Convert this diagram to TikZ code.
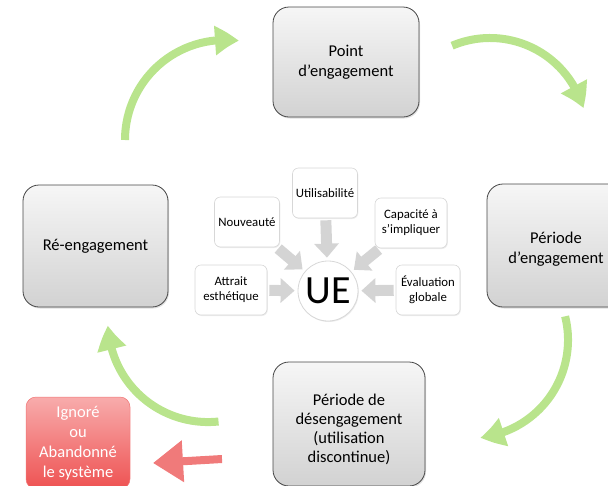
\documentclass[tikz,border=0pt]{standalone}
\usepackage{fontspec}
\setmainfont{Carlito}
\usetikzlibrary{arrows.meta,bending,shadows,calc}
\definecolor{boxtop}{RGB}{246,246,246}
\definecolor{boxbot}{RGB}{210,210,210}
\definecolor{boxline}{RGB}{70,70,70}
\definecolor{smallline}{RGB}{215,215,215}
\definecolor{garrow}{RGB}{212,212,212}
\definecolor{greenA}{RGB}{185,228,140}
\definecolor{redtop}{RGB}{248,172,172}
\definecolor{redbot}{RGB}{238,82,82}
\definecolor{redarr}{RGB}{240,122,122}
\begin{document}
\begin{tikzpicture}[x=1pt,y=-1pt,
  bigbox/.style={draw=boxline, line width=0.8pt, rounded corners=16pt,
    top color=boxtop, bottom color=boxbot, align=center, inner sep=0pt,
    font=\fontsize{16.5}{20}\selectfont,
    drop shadow={shadow xshift=1pt,shadow yshift=-1.5pt,opacity=0.25}},
  plaintext/.style={align=center, inner sep=0pt},
  smallbox/.style={draw=smallline, line width=0.6pt, fill=white, rounded corners=6pt,
    minimum height=50pt, align=center, inner sep=2pt,
    font=\fontsize{12.8}{15}\selectfont,
    drop shadow={shadow xshift=0.8pt,shadow yshift=-1pt,opacity=0.15}},
  redbox/.style={draw=redbot!80!white, line width=0.5pt, rounded corners=10pt,
    top color=redtop, bottom color=redbot, align=center, inner sep=0pt,
    text=white, font=\fontsize{16.5}{20}\selectfont},
  grayarrow/.style={line width=11pt, draw=garrow, -{Triangle[width=24pt,length=14pt]}},
  greenarrow/.style={line width=8pt, draw=greenA, -{Triangle[width=28pt,length=24pt,bend]}},
  redarrow/.style={line width=8pt, draw=redarr, -{Triangle[width=40pt,length=30pt]}},
]
\useasboundingbox (0,0) rectangle (608,485);

% main cycle boxes
\node[bigbox, minimum width=146pt, minimum height=110pt] (point) at (346,62) {Point\\d’engagement};
\node[bigbox, minimum width=145pt, minimum height=122pt] (re) at (95.5,246) {Ré-engagement};
\node[bigbox, minimum width=152pt, minimum height=123pt] (periode) at (563,245.5) {};
\node[plaintext, font=\fontsize{16.5}{20}\selectfont] (periodetext) at (556,249) {Période\\d’engagement};
\node[bigbox, minimum width=152pt, minimum height=124pt] (des) at (349,424) {};
\node[plaintext, font=\fontsize{16.5}{19}\selectfont] (destext) at (349,429) {Période de\\désengagement\\(utilisation\\discontinue)};
\node[redbox, minimum width=104pt, minimum height=92pt] (ign) at (78,443) {Ignoré\\ou\\Abandonné\\le système};

% UE cluster
\node[circle, draw=smallline, line width=0.8pt, fill=white, minimum size=60pt, inner sep=0pt,
  font=\fontsize{40}{40}\selectfont,
  drop shadow={shadow xshift=0.8pt,shadow yshift=-1pt,opacity=0.15}] (ue) at (328,291) {UE};
\node[smallbox, minimum width=65pt] (util) at (325,193) {Utilisabilité};
\node[smallbox, minimum width=65pt] (nouv) at (247,222) {Nouveauté};
\node[smallbox, minimum width=72pt] (cap) at (411,223) {Capacité à\\s’impliquer};
\node[smallbox, minimum width=72pt] (attr) at (231,290) {Attrait\\esthétique};
\node[smallbox, minimum width=64pt] (eval) at (428,290) {Évaluation\\globale};

\draw[grayarrow, shorten <=2pt, shorten >=3pt] (util) -- (ue);
\draw[grayarrow, shorten <=2pt, shorten >=3pt] (nouv) -- (ue);
\draw[grayarrow, shorten <=2pt, shorten >=3pt] (cap) -- (ue);
\draw[grayarrow, shorten <=2pt, shorten >=3pt] (attr) -- (ue);
\draw[grayarrow, shorten <=2pt, shorten >=3pt] (eval) -- (ue);

% green cycle arrows
\draw[greenarrow] (125,140) arc[start angle=180, end angle=278, radius=100];
\draw[greenarrow] (452.1,45.7) arc[start angle=247, end angle=344, radius=97];
\draw[greenarrow] (565.1,316.3) arc[start angle=-14, end angle=84, radius=98];
\draw[greenarrow] (218.5,421.5) arc[start angle=84, end angle=178, radius=100];

% red arrow
\coordinate (rtail) at (222,459);
\coordinate (rtip) at (153,463);
\draw[redarrow] (rtail) -- (rtip);
\end{tikzpicture}
\end{document}
